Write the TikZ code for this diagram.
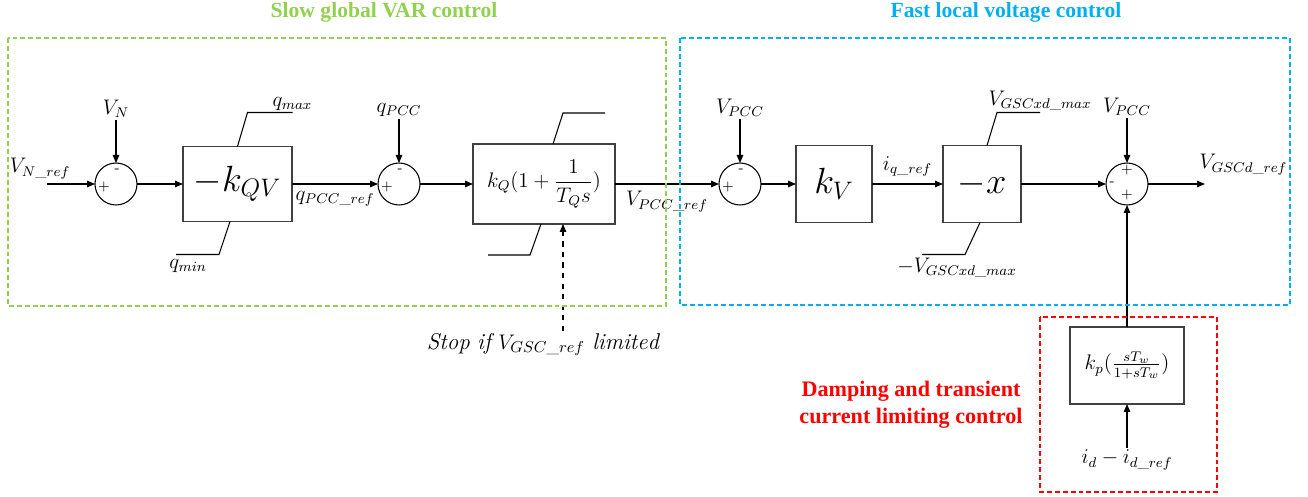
\documentclass[tikz,border=0pt]{standalone}
\usepackage{amsmath}
\usepackage{fontspec}
\usepackage{tikz}
\usetikzlibrary{arrows.meta, positioning, calc}
\newfontfamily\titlefont{Liberation Serif}
\definecolor{slowgreen}{HTML}{92D050}
\definecolor{fastblue}{HTML}{00B0F0}
\definecolor{dampred}{HTML}{FF0000}

\begin{document}
\begin{tikzpicture}[
    blk/.style={rectangle, draw=black!75, line width=0.9pt, minimum height=1.54cm, inner sep=0pt, outer sep=0pt, font=\fontsize{20}{24}\selectfont},
    sumnode/.style={circle, draw, line width=0.6pt, minimum size=0.84cm, inner sep=0pt, outer sep=0pt},
    sgn/.style={font=\footnotesize, inner sep=0pt},
    sig/.style={font=\large, inner sep=1pt},
    arr/.style={-{Triangle[length=1.6mm, width=1.3mm]}, line width=0.6pt},
    lim/.style={line width=0.6pt},
    zone/.style={line width=0.9pt, dash pattern=on 2.8pt off 1.7pt},
    zonetitle/.style={font=\titlefont\bfseries\fontsize{12.3}{14}\selectfont},
  ]
  \useasboundingbox (0,0) rectangle (26.16,-9.94);

  % Slow global VAR control
  \node[sumnode] (sum1) at (2.32,-3.68) {};
  \node[blk, minimum width=2.18cm, minimum height=1.5cm, right=0.92cm of sum1] (kqv) {$-k_{QV}$};
  \node[sumnode, right=1.72cm of kqv] (sum2) {};
  \node[blk, minimum width=2.84cm, minimum height=1.6cm, right=1.06cm of sum2, font=\large] (kq) {$k_Q(1+\dfrac{1}{T_Q s})$};

  % Fast local voltage control
  \node[sumnode, right=2.08cm of kq] (sum3) {};
  \node[blk, minimum width=1.52cm, right=0.7cm of sum3] (kv) {$k_V$};
  \node[blk, minimum width=1.56cm, right=1.42cm of kv] (gain) {$-x$};
  \node[sumnode, right=1.7cm of gain] (sum4) {};

  % Damping path
  \node[blk, minimum width=2.28cm, below=2.44cm of sum4, font=\large] (damp) {$k_p(\frac{sT_w}{1+sT_w})$};

  % signs
  \node[sgn] (s1p) at ($(sum1)+(-0.24,-0.06)$) {+};
  \node[sgn] (s1m) at ($(sum1)+(0.02,0.26)$) {-};
  \node[sgn] (s2p) at ($(sum2)+(-0.24,-0.06)$) {+};
  \node[sgn] (s2m) at ($(sum2)+(0.02,0.26)$) {-};
  \node[sgn] (s3p) at ($(sum3)+(-0.24,-0.06)$) {+};
  \node[sgn] (s3m) at ($(sum3)+(0.02,0.26)$) {-};
  \node[sgn] (s4t) at ($(sum4)+(0,0.28)$) {+};
  \node[sgn] (s4m) at ($(sum4)+(-0.3,0)$) {-};
  \node[sgn] (s4b) at ($(sum4)+(0,-0.22)$) {+};

  % inputs
  \coordinate (vnref) at (0.94,-3.68);
  \coordinate (vn) at ($(sum1)+(0,1.28)$);
  \coordinate (qpcc) at ($(sum2)+(0,1.3)$);
  \coordinate (vpcc) at ($(sum3)+(0,1.3)$);
  \coordinate (vpcctwo) at ($(sum4)+(0,1.32)$);
  \coordinate[right=1.14cm of sum4] (vout);
  \coordinate[below=0.88cm of damp] (idin);
  \coordinate (stopin) at ($(kq.south)+(0.38,-2.14)$);

  \node[sig, above=0.06cm of vnref, xshift=-0.14cm] (vnreflbl) {$V_{N\_ref}$};
  \node[sig, above=0pt of vn] (vnlbl) {$V_N$};
  \node[sig, above=0pt of qpcc] (qpcclbl) {$q_{PCC}$};
  \node[sig, above=0pt of vpcc] (vpcclbl) {$V_{PCC}$};
  \node[sig, above=0pt of vpcctwo] (vpcctwolbl) {$V_{PCC}$};
  \node[sig, above right=0.14cm and -0.15cm of vout] (voutlbl) {$V_{GSCd\_ref}$};
  \node[sig, below=0pt of idin] (idinlbl) {$i_d-i_{d\_ref}$};
  \node[sig, below=0pt of stopin, xshift=-0.4cm, font=\fontsize{13}{15}\selectfont] (stoplbl) {$\mathit{Stop\ if}\ V_{GSC\_ref}\ \mathit{limited}$};

  % connectors
  \draw[arr] (vnref) -- (sum1);
  \draw[arr] (vn) -- (sum1);
  \draw[arr] (sum1) -- (kqv);
  \draw[arr] (kqv) -- (sum2) node[sig, midway, below=3pt] (qpccref) {$q_{PCC\_ref}$};
  \draw[arr] (qpcc) -- (sum2);
  \draw[arr] (sum2) -- (kq);
  \draw[arr] (kq) -- (sum3) node[sig, midway, below=3pt] (vpccref) {$V_{PCC\_ref}$};
  \draw[arr] (vpcc) -- (sum3);
  \draw[arr] (sum3) -- (kv);
  \draw[arr] (kv) -- (gain) node[sig, midway, above=3pt] (iqref) {$i_{q\_ref}$};
  \draw[arr] (gain) -- (sum4);
  \draw[arr] (vpcctwo) -- (sum4);
  \draw[arr] (sum4) -- (vout);
  \draw[arr] (damp) -- (sum4);
  \draw[arr] (idin) -- (damp);
  \draw[arr, dashed] (stopin) -- (stopin |- kq.south);

  % limiters
  \draw[lim] (kqv.north) -- ++(0.2,0.68) -- ++(0.9,0) coordinate (qmaxend);
  \draw[lim] ($(kqv.south)+(-0.15,0)$) -- ++(-0.22,-0.66) coordinate (qmincorner) -- ++(-0.86,0);
  \node[sig, above=0pt of qmaxend] (qmaxlbl) {$q_{max}$};
  \node[sig, below left=0.05cm and 0.2cm of qmincorner] (qminlbl) {$q_{min}$};
  \draw[lim] ($(kq.north)+(0.18,0)$) -- ++(0.2,0.62) -- ++(0.84,0);
  \draw[lim] ($(kq.south)+(-0.06,0)$) -- ++(-0.22,-0.62) -- ++(-0.84,0);
  \draw[lim] ($(gain.north)+(0.1,0)$) -- ++(0.2,0.66) -- ++(0.86,0) coordinate (vmaxend);
  \draw[lim] ($(gain.south)+(-0.04,0)$) -- ++(-0.3,-0.64) coordinate (vmincorner) -- ++(-0.86,0);
  \node[sig, above=0pt of vmaxend] (vmaxlbl) {$V_{GSCxd\_max}$};
  \node[sig, below=0.02cm of vmincorner, xshift=-0.16cm] (vminlbl) {$-V_{GSCxd\_max}$};

  % zones
  \draw[zone, slowgreen] (0.16,-0.76) rectangle (13.32,-6.12);
  \draw[zone, fastblue] (13.6,-0.76) rectangle (25.8,-6.1);
  \draw[zone, dampred] (20.8,-6.34) rectangle (24.34,-9.84);
  \node[zonetitle, text=slowgreen] (slowtitle) at (7.68,-0.24) {Slow global VAR control};
  \node[zonetitle, text=fastblue] (fasttitle) at (20.12,-0.24) {Fast local voltage control};
  \node[zonetitle, text=dampred, align=center, font=\titlefont\bfseries\fontsize{12.6}{15.4}\selectfont] (damptitle) at (18.22,-8.1) {Damping and transient\\current limiting control};
\end{tikzpicture}
\end{document}
